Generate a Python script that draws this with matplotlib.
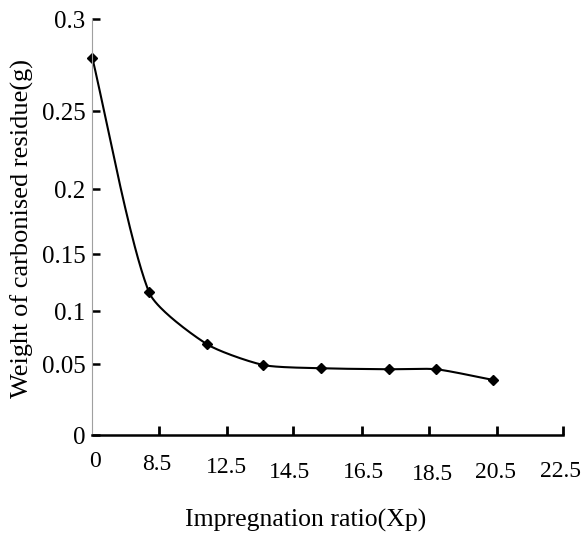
import numpy as np
import matplotlib
matplotlib.use('Agg')
import matplotlib.pyplot as plt
from matplotlib import transforms

# data
ratio = [0, 7.2, 11.3, 13.6, 15.3, 17.3, 18.7, 20.4]
residue = [0.279, 0.1165, 0.069, 0.0495, 0.0472, 0.0465, 0.0465, 0.0389]

x_ticks = [0, 8.5, 12.5, 14.5, 16.5, 18.5, 20.5, 22.5]
x_labels = ['0', '8.5', '12.5', '14.5', '16.5', '18.5', '20.5', '22.5']
y_ticks = [0, 0.05, 0.1, 0.15, 0.2, 0.25, 0.3]
y_labels = ['0', '0.05', '0.1', '0.15', '0.2', '0.25', '0.3']

# the original axes are unevenly spaced: pixel offset of each tick
x_pos = [0, 67, 134.7, 200.7, 269.7, 337, 404.4, 471]
y_pos = [0, 70.7, 124, 180.7, 245.7, 324, 415.7]


def fx(v):
    return np.interp(v, x_ticks, x_pos)


def ifx(p):
    return np.interp(p, x_pos, x_ticks)


def fy(v):
    return np.interp(v, y_ticks, y_pos)


def ify(p):
    return np.interp(p, y_pos, y_ticks)


plt.rcParams['font.family'] = 'Liberation Serif'

fig = plt.figure(figsize=(5.81, 5.39), dpi=100)
ax = fig.add_axes([92.3 / 581, 104 / 539, 471 / 581, 415.7 / 539])
ax.set_xscale('function', functions=(fx, ifx))
ax.set_yscale('function', functions=(fy, ify))
ax.set_xlim(0, 22.5)
ax.set_ylim(0, 0.3)

# smoothed line through the points (bezier, tangents scaled by segment length)
P = np.column_stack([fx(ratio), fy(residue)])
n = len(P)
t = np.linspace(0, 1, 40)[:, None]
segs = []
for i in range(n - 1):
    p0 = P[max(i - 1, 0)]
    p1 = P[i]
    p2 = P[i + 1]
    p3 = P[min(i + 2, n - 1)]
    L = np.hypot(*(p2 - p1))
    d1 = (p2 - p0) / np.hypot(*(p2 - p0))
    d2 = (p3 - p1) / np.hypot(*(p3 - p1))
    c1 = p1 + d1 * L * 0.22
    c2 = p2 - d2 * L * 0.22
    segs.append((1 - t) ** 3 * p1 + 3 * (1 - t) ** 2 * t * c1
                + 3 * (1 - t) * t ** 2 * c2 + t ** 3 * p2)
curve = np.vstack(segs)
ax.plot(ifx(curve[:, 0]), ify(curve[:, 1]), color='black', lw=1.5,
        clip_on=False)
ax.plot(ratio, residue, linestyle='none', marker='D', ms=5, color='black',
        clip_on=False)

ax.spines['top'].set_visible(False)
ax.spines['right'].set_visible(False)
ax.spines['left'].set_color('#a0a0a0')
ax.spines['left'].set_linewidth(0.8)
ax.spines['bottom'].set_linewidth(1.8)

ax.set_yticks(y_ticks, y_labels)
ax.tick_params(axis='y', direction='in', length=6, width=1.8, pad=5,
               labelsize=18)
ax.set_xticks(x_ticks, [''] * len(x_ticks))
ax.tick_params(axis='x', direction='in', length=6.5, width=2, pad=2)
ax.xaxis.get_major_ticks()[0].tick1line.set_visible(False)

# x tick labels sit a little unevenly in the original
dx = [3, -3, -1, -3, 1, 3, -1, -3]
dy = [16, 19, 22, 27, 27, 29, 27, 26]
for v, lab, ox, oy in zip(x_ticks, x_labels, dx, dy):
    off = transforms.ScaledTranslation(ox / 100, -oy / 100, fig.dpi_scale_trans)
    ax.text(v, 0, lab, transform=ax.get_xaxis_transform() + off,
            ha='center', va='top', fontsize=17)

fig.text(306 / 581, 1 - 520 / 539, 'Impregnation ratio(Xp)', ha='center',
         va='center', fontsize=18.5)
fig.text(22 / 581, 1 - 228 / 539, 'Weight of carbonised residue(g)',
         ha='center', va='center', rotation=90, fontsize=19)

fig.savefig('out.png', dpi=100)
